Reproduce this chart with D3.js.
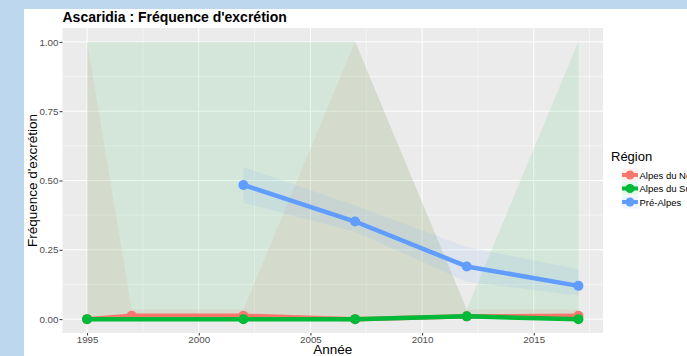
<!DOCTYPE html>
<html><head><meta charset="utf-8">
<script src="https://cdn.jsdelivr.net/npm/d3@7"></script>
<style>body{margin:0;background:#BDD7EE;overflow:hidden}svg{display:block}</style>
</head><body>
<svg id="c" width="687" height="356"></svg>
<script>
const regions = ["Alpes du Nord", "Alpes du Sud", "Pré-Alpes"];
const colors = ["#F8766D", "#00BA38", "#619CFF"];
const xTicks = [1995, 2000, 2005, 2010, 2015];
const yTicks = [0, 0.25, 0.5, 0.75, 1];
const yTickLabels = ["0.00", "0.25", "0.50", "0.75", "1.00"];

const nordYears = [1995, 1997, 2002, 2007, 2012, 2017];
const nordVal   = [0, 0.012, 0.012, 0, 0.01, 0.012];
const nordLow   = [0, 0, 0, 0, 0, 0];
const nordHigh  = [1, 0.035, 0.035, 1, 0.035, 0.035];

const sudYears = [1995, 2002, 2007, 2012, 2017];
const sudVal   = [0, 0, 0, 0.01, 0];
const sudLow   = [0, 0, 0, 0, 0];
const sudHigh  = [1, 1, 1, 0.035, 1];

const preYears = [2002, 2007, 2012, 2017];
const preVal   = [0.484, 0.352, 0.19, 0.12];
const preLow   = [0.42, 0.315, 0.135, 0.085];
const preHigh  = [0.548, 0.41, 0.26, 0.18];

const series = [
  {years: nordYears, val: nordVal, low: nordLow, high: nordHigh},
  {years: sudYears, val: sudVal, low: sudLow, high: sudHigh},
  {years: preYears, val: preVal, low: preLow, high: preHigh}
].map((s, i) => ({name: regions[i], color: colors[i],
  pts: s.years.map((y, j) => ({x: y, v: s.val[j], lo: s.low[j], hi: s.high[j]}))}));

const FONT = "Liberation Sans, Arial, sans-serif";
const svg = d3.select("#c");
svg.append("rect").attr("x", 24).attr("y", 9).attr("width", 663).attr("height", 347).attr("fill", "#fff");

const L = 62.5, R = 603, T = 28, B = 333;
const x = d3.scaleLinear().domain([1995 - 1.1, 2017 + 1.1]).range([L, R]);
const y = d3.scaleLinear().domain([-0.05, 1.05]).range([B, T]);

svg.append("rect").attr("x", L).attr("y", T).attr("width", R - L).attr("height", B - T).attr("fill", "#EBEBEB");
const g = svg.append("g");
const xMinor = [1997.5, 2002.5, 2007.5, 2012.5, 2017.5];
const yMinor = [0.125, 0.375, 0.625, 0.875];
g.selectAll(".xm").data(xMinor).join("line").attr("x1", d => x(d)).attr("x2", d => x(d)).attr("y1", T).attr("y2", B).attr("stroke", "#fff").attr("stroke-width", 0.5);
g.selectAll(".ym").data(yMinor).join("line").attr("y1", d => y(d)).attr("y2", d => y(d)).attr("x1", L).attr("x2", R).attr("stroke", "#fff").attr("stroke-width", 0.5);
g.selectAll(".xM").data(xTicks).join("line").attr("x1", d => x(d)).attr("x2", d => x(d)).attr("y1", T).attr("y2", B).attr("stroke", "#fff").attr("stroke-width", 1);
g.selectAll(".yM").data(yTicks).join("line").attr("y1", d => y(d)).attr("y2", d => y(d)).attr("x1", L).attr("x2", R).attr("stroke", "#fff").attr("stroke-width", 1);

const area = d3.area().x(d => x(d.x)).y0(d => y(d.lo)).y1(d => y(d.hi));
series.forEach(s => {
  svg.append("path").attr("d", area(s.pts)).attr("fill", s.color).attr("fill-opacity", 0.1);
});
const line = d3.line().x(d => x(d.x)).y(d => y(d.v));
series.forEach(s => {
  svg.append("path").attr("d", line(s.pts)).attr("fill", "none").attr("stroke", s.color).attr("stroke-width", 4.5).attr("stroke-linejoin", "round");
  svg.selectAll(null).data(s.pts).join("circle").attr("cx", d => x(d.x)).attr("cy", d => y(d.v)).attr("r", 5).attr("fill", s.color);
});

const ax = svg.append("g").attr("transform", `translate(0,${B})`).call(d3.axisBottom(x).tickValues(xTicks).tickFormat(d3.format("d")).tickSize(2.5).tickPadding(0.5));
const ay = svg.append("g").attr("transform", `translate(${L},0)`).call(d3.axisLeft(y).tickValues(yTicks).tickFormat((d, i) => yTickLabels[i]).tickSize(3).tickPadding(1));
[ax, ay].forEach(a => {
  a.select(".domain").remove();
  a.selectAll(".tick line").attr("stroke", "#333");
  a.selectAll("text").attr("fill", "#4D4D4D").attr("font-family", FONT).attr("font-size", 9.8);
});

svg.append("text").attr("x", L).attr("y", 22).text("Ascaridia : Fréquence d'excrétion")
  .attr("font-family", FONT).attr("font-weight", "bold").attr("font-size", 14).attr("fill", "#000");
svg.append("text").attr("transform", `translate(37,${(T + B) / 2}) rotate(-90)`).attr("text-anchor", "middle").text("Fréquence d'excrétion")
  .attr("font-family", FONT).attr("font-size", 13.5).attr("fill", "#000");
svg.append("text").attr("x", (L + R) / 2).attr("y", 354).attr("text-anchor", "middle").text("Année")
  .attr("font-family", FONT).attr("font-size", 13.5).attr("fill", "#000");

const lg = svg.append("g");
lg.append("text").attr("x", 611).attr("y", 161).text("Région").attr("font-family", FONT).attr("font-size", 13).attr("fill", "#000");
regions.forEach((r, i) => {
  const cy = 175 + i * 13.5;
  lg.append("rect").attr("x", 622).attr("y", cy - 6.5).attr("width", 16).attr("height", 13).attr("fill", colors[i]).attr("fill-opacity", 0.1);
  lg.append("line").attr("x1", 622).attr("x2", 638).attr("y1", cy).attr("y2", cy).attr("stroke", colors[i]).attr("stroke-width", 4);
  lg.append("circle").attr("cx", 630).attr("cy", cy).attr("r", 4.5).attr("fill", colors[i]);
  lg.append("text").attr("x", 639.5).attr("y", cy + 3.5).text(r).attr("font-family", FONT).attr("font-size", 9.5).attr("fill", "#000");
});
</script>
</body></html>
